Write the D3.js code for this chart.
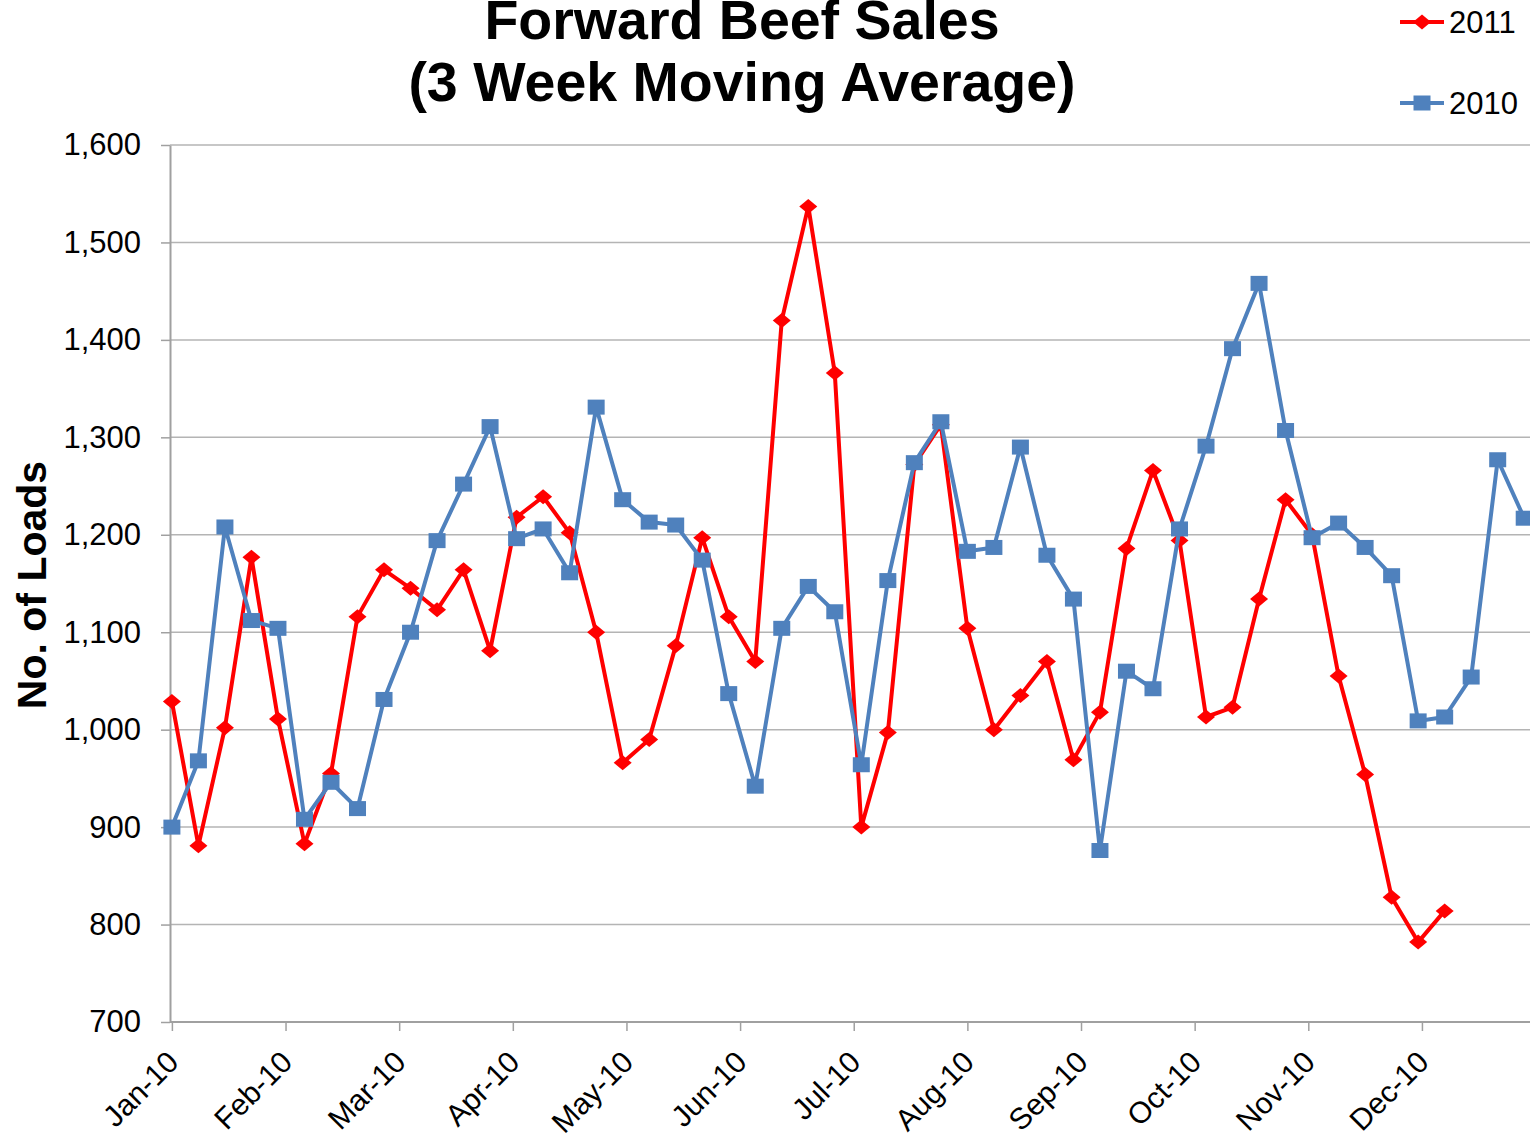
<!DOCTYPE html>
<html>
<head>
<meta charset="utf-8">
<script src="https://cdn.jsdelivr.net/npm/d3@7"></script>
<style>
  html, body { margin: 0; padding: 0; background: #fff; }
  svg { display: block; }
  text { font-family: "Liberation Sans", Arial, sans-serif; }
</style>
</head>
<body>
<svg id="chart" width="1530" height="1139"></svg>
<script>
// ---- data ----
const monthLabels = ["Jan-10","Feb-10","Mar-10","Apr-10","May-10","Jun-10",
                     "Jul-10","Aug-10","Sep-10","Oct-10","Nov-10","Dec-10"];
const yTickValues = [700, 800, 900, 1000, 1100, 1200, 1300, 1400, 1500, 1600];
// weekly 3-week moving average, No. of Loads
const sales2011 = [1029, 881, 1002, 1177, 1011, 883, 955, 1116, 1164, 1145,
                   1123, 1164, 1081, 1218, 1239, 1202, 1100, 966, 990, 1086,
                   1197, 1116, 1070, 1420, 1537, 1366, 900, 997, 1272, 1313,
                   1104, 1000, 1035, 1070, 969, 1018, 1186, 1266, 1194, 1013,
                   1023, 1134, 1236, 1200, 1055, 954, 828, 782, 814];
const sales2010 = [900, 968, 1208, 1112, 1104, 908, 946, 919, 1031, 1100,
                   1194, 1252, 1311, 1196, 1206, 1161, 1331, 1236, 1213, 1210,
                   1174, 1037, 942, 1104, 1147, 1121, 964, 1153, 1274, 1316,
                   1183, 1187, 1290, 1179, 1134, 876, 1060, 1042, 1206, 1291,
                   1391, 1458, 1307, 1197, 1212, 1187, 1158, 1009, 1013, 1054,
                   1277, 1217];
const seriesNames = ["2011", "2010"];

// ---- layout ----
const svg = d3.select("#chart");
const plotLeft = 170, plotRight = 1528, plotTop = 145, plotBottom = 1022;
const RED = "#FF0000", BLUE = "#4F81BD";
const FONT = "'Liberation Sans', Arial, sans-serif";

// x in days from start of year; the axis shows equal-width month steps of 30 days
const x = d3.scaleLinear().domain([-0.5, 358]).range([plotLeft, plotRight]);
const y = d3.scaleLinear().domain([700, 1600]).range([plotBottom, plotTop]);
const dayOf = i => i * 7;

// gridlines
svg.append("g")
  .selectAll("line")
  .data(yTickValues.filter(v => v > 700))
  .join("line")
  .attr("x1", plotLeft).attr("x2", 1530)
  .attr("y1", d => y(d)).attr("y2", d => y(d))
  .attr("stroke", "#B4B4B4").attr("stroke-width", 1.5);

// y axis
const yAxis = svg.append("g")
  .attr("transform", `translate(${plotLeft},0)`)
  .call(d3.axisLeft(y).tickValues(yTickValues).tickFormat(d3.format(","))
        .tickSizeInner(9).tickSizeOuter(0).tickPadding(20));
yAxis.select(".domain").attr("stroke", "#A0A0A0").attr("stroke-width", 2);
yAxis.selectAll(".tick line").attr("stroke", "#A0A0A0").attr("stroke-width", 1.5);
yAxis.selectAll(".tick text").attr("font-size", 31).attr("fill", "#000")
  .attr("font-family", FONT);

// x axis
const xAxis = svg.append("g")
  .attr("transform", `translate(0,${plotBottom})`)
  .call(d3.axisBottom(x).tickValues(monthLabels.map((m, i) => i * 30))
        .tickFormat((d, i) => monthLabels[i]).tickSizeInner(9).tickSizeOuter(0));
xAxis.select(".domain").attr("stroke", "#A0A0A0").attr("stroke-width", 2)
  .attr("d", `M${plotLeft},0H1530`);
xAxis.selectAll(".tick line").attr("stroke", "#A0A0A0").attr("stroke-width", 1.5);
xAxis.selectAll(".tick text")
  .attr("font-size", 30).attr("fill", "#000")
  .attr("font-family", FONT)
  .attr("text-anchor", "end")
  .attr("y", 0).attr("dy", 0)
  .attr("transform", "translate(8,42) rotate(-45)");

// lines
const line = d3.line().x((d, i) => x(dayOf(i))).y(d => y(d));

function drawSeries(data, color, marker) {
  const g = svg.append("g");
  g.append("path").datum(data)
    .attr("d", line).attr("fill", "none")
    .attr("stroke", color).attr("stroke-width", 4)
    .attr("stroke-linejoin", "round");
  if (marker === "diamond") {
    g.selectAll("path.m").data(data).join("path").attr("class", "m")
      .attr("d", "M0,-7.5L9,0L0,7.5L-9,0Z")
      .attr("transform", (d, i) => `translate(${x(dayOf(i))},${y(d)})`)
      .attr("fill", color);
  } else {
    g.selectAll("rect.m").data(data).join("rect").attr("class", "m")
      .attr("x", (d, i) => x(dayOf(i)) - 8.5).attr("y", d => y(d) - 7.5)
      .attr("width", 17).attr("height", 15)
      .attr("fill", color);
  }
}
drawSeries(sales2011, RED, "diamond");
drawSeries(sales2010, BLUE, "square");

// title
const title = svg.append("text")
  .attr("x", 742).attr("text-anchor", "middle")
  .attr("font-size", 55.5).attr("font-weight", "bold").attr("fill", "#000");
title.append("tspan").attr("x", 742).attr("y", 39).text("Forward Beef Sales");
title.append("tspan").attr("x", 742).attr("y", 101).text("(3 Week Moving Average)");

// y axis title
svg.append("text")
  .attr("transform", "translate(46,585) rotate(-90)")
  .attr("text-anchor", "middle")
  .attr("font-size", 41).attr("font-weight", "bold").attr("fill", "#000")
  .text("No. of Loads");

// legend
const legend = svg.append("g");
const legendRows = [
  { name: seriesNames[0], color: RED, marker: "diamond", cy: 22 },
  { name: seriesNames[1], color: BLUE, marker: "square", cy: 103 }
];
legendRows.forEach(r => {
  legend.append("line").attr("x1", 1400).attr("x2", 1444)
    .attr("y1", r.cy).attr("y2", r.cy)
    .attr("stroke", r.color).attr("stroke-width", 4);
  if (r.marker === "diamond") {
    legend.append("path").attr("d", "M0,-7.5L9,0L0,7.5L-9,0Z")
      .attr("transform", `translate(1422,${r.cy})`).attr("fill", r.color);
  } else {
    legend.append("rect").attr("x", 1422 - 8.5).attr("y", r.cy - 7.5)
      .attr("width", 17).attr("height", 15).attr("fill", r.color);
  }
  legend.append("text").attr("x", 1449).attr("y", r.cy + 11)
    .attr("font-size", 31).attr("fill", "#000").text(r.name);
});
</script>
</body>
</html>
